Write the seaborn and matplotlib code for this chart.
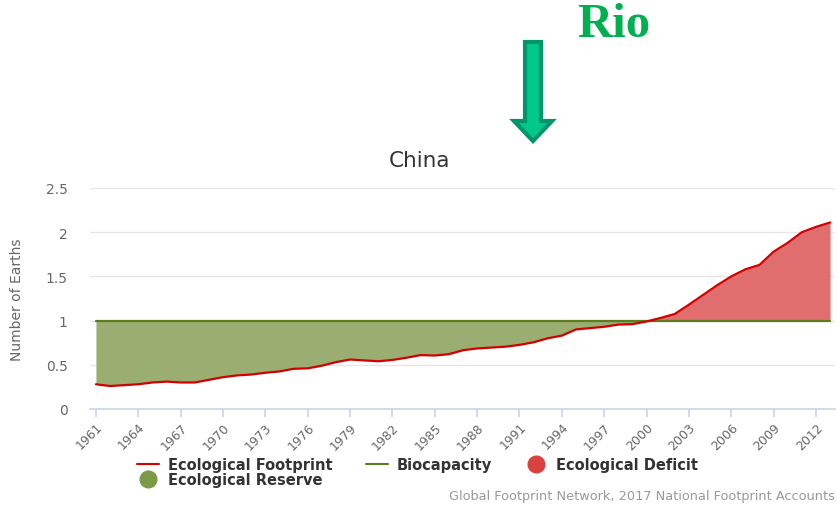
import numpy as np
import pandas as pd
import matplotlib
matplotlib.use("Agg")
import matplotlib.pyplot as plt
from matplotlib.lines import Line2D
import seaborn as sns

# China, Number of Earths (Global Footprint Network)
years = list(range(1961, 2014))
footprint = [0.28, 0.26, 0.27, 0.28, 0.30, 0.31, 0.30, 0.30, 0.33, 0.36,
             0.38, 0.39, 0.41, 0.425, 0.455, 0.46, 0.49, 0.53, 0.56, 0.55,
             0.54, 0.555, 0.58, 0.61, 0.605, 0.62, 0.665, 0.685, 0.695, 0.705,
             0.725, 0.755, 0.80, 0.83, 0.90, 0.915, 0.93, 0.955, 0.96, 0.99,
             1.03, 1.075, 1.18, 1.29, 1.40, 1.50, 1.58, 1.63, 1.78, 1.88,
             2.00, 2.06, 2.11]
biocapacity = [1.0] * len(years)
tick_years = list(range(1961, 2013, 3))
y_ticks = [0, 0.5, 1, 1.5, 2, 2.5]

df = pd.DataFrame({"Year": years, "Footprint": footprint, "Biocapacity": biocapacity})

sns.set_theme(style="white")
plt.rcParams['font.family'] = ['DejaVu Sans']

fig = plt.figure(figsize=(8.37, 5.06), dpi=100)
ax = fig.add_axes([90 / 837, 1 - 410 / 506, 745 / 837, 221 / 506])

x = df["Year"].values
fp = df["Footprint"].values
bc = df["Biocapacity"].values
ax.fill_between(x, fp, bc, where=fp <= bc, interpolate=True, color="#9aae72", linewidth=0)
ax.fill_between(x, fp, bc, where=fp >= bc, interpolate=True, color="#e06e6e", linewidth=0)
sns.lineplot(data=df, x="Year", y="Biocapacity", ax=ax, color="#5b7d1c", linewidth=1.6)
sns.lineplot(data=df, x="Year", y="Footprint", ax=ax, color="#d40000", linewidth=1.6)

ax.set_xlim(1960.58, 2013.35)
ax.set_ylim(0, 2.5)
ax.set_yticks(y_ticks)
ax.set_yticklabels(["%g" % v for v in y_ticks], color="#666666", fontsize=10)
ax.set_xticks(tick_years)
ax.set_xticklabels([str(y) for y in tick_years], rotation=45, ha="right",
                   rotation_mode="anchor", color="#666666", fontsize=9)
ax.yaxis.grid(True, color="#e6e6e6", linewidth=1)
for s in ["top", "right", "left"]:
    ax.spines[s].set_visible(False)
ax.spines["bottom"].set_color("#ccd6eb")
ax.tick_params(axis="x", length=6, color="#ccd6eb", direction="out", bottom=True, pad=2)
ax.tick_params(axis="y", length=0, pad=16)
ax.set_xlabel("")
ax.set_ylabel("Number of Earths", color="#666666", fontsize=10,
              family=["Liberation Sans Narrow", "DejaVu Sans"])
ax.yaxis.set_label_coords(-66 / 745, 0.5)

fig.text(420 / 837, 1 - 161 / 506, "China", ha="center", va="center",
         fontsize=15.5, color="#333333")

handles = [
    Line2D([], [], color="#d40000", linewidth=1.5),
    Line2D([], [], color="#7a9a48", marker="o", linestyle="", markersize=12),
    Line2D([], [], color="#5b7d1c", linewidth=1.5),
    Line2D([], [], color="#d94040", marker="o", linestyle="", markersize=12),
]
labels = ["Ecological Footprint", "Ecological Reserve", "Biocapacity", "Ecological Deficit"]
fig.legend(handles, labels, ncol=3, loc="upper left",
           bbox_to_anchor=(127 / 837, 1 - 448 / 506), frameon=False,
           prop={"weight": "bold", "size": 10.5}, handlelength=1.5,
           columnspacing=2.3, labelspacing=0.0, handletextpad=0.6, borderpad=0.2)
for t in fig.legends[0].get_texts():
    t.set_color("#333333")

fig.text(835 / 837, 1 - 497 / 506, "Global Footprint Network, 2017 National Footprint Accounts",
         ha="right", va="center", fontsize=9.3, color="#999999")

# Rio annotation
fig.text(614 / 837, 1 - 25 / 506, "Rio", ha="center", va="center", fontsize=35,
         fontweight="bold", color="#00b050", family=["Liberation Serif", "DejaVu Serif"])
fig.patches.append(matplotlib.patches.FancyArrow(
    533 / 837, 1 - 43 / 506, 0, -(99 / 506), width=16 / 837, head_width=38 / 837,
    head_length=20 / 506, length_includes_head=True, transform=fig.transFigure,
    facecolor="#00c98a", edgecolor="#00956b", linewidth=3))

fig.savefig("out.png", dpi=100)
